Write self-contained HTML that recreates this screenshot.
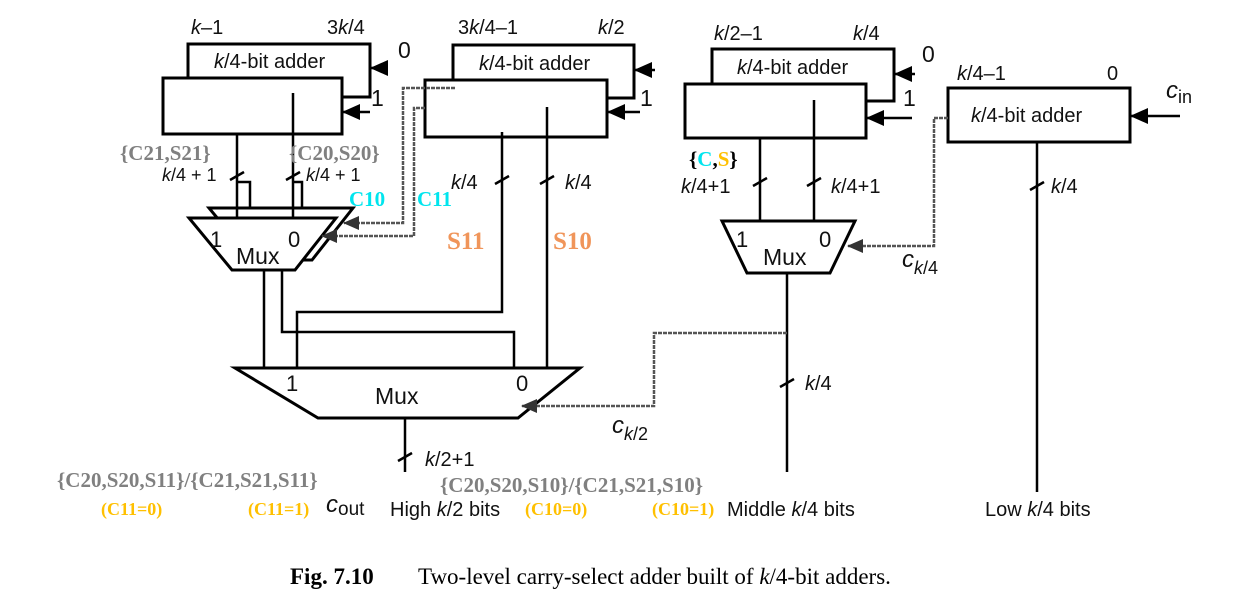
<!DOCTYPE html>
<html><head><meta charset="utf-8"><style>
html,body{margin:0;padding:0;background:#fff;}
svg{display:block;}
.s{font-family:"Liberation Sans",sans-serif;font-size:20px;fill:#111;}
.i{font-style:italic;}
.g{font-family:"Liberation Serif",serif;font-weight:bold;font-size:21px;fill:#808080;}
.y{font-family:"Liberation Serif",serif;font-weight:bold;font-size:18px;fill:#FFC000;}
.c{font-family:"Liberation Serif",serif;font-weight:bold;font-size:21px;fill:#00E5EE;}
.o{font-family:"Liberation Serif",serif;font-weight:bold;font-size:25px;fill:#F0955A;}
</style></head><body>
<svg width="1257" height="608" viewBox="0 0 1257 608" xmlns="http://www.w3.org/2000/svg">
<defs>
<marker id="a" markerWidth="18" markerHeight="16" refX="17" refY="8" orient="auto" markerUnits="userSpaceOnUse"><path d="M0,0 L18,8 L0,16 z" fill="#000"/></marker>
<marker id="b" markerWidth="16" markerHeight="14" refX="15" refY="7" orient="auto" markerUnits="userSpaceOnUse"><path d="M0,0 L16,7 L0,14 z" fill="#333"/></marker>
</defs>
<g fill="#fff" stroke="#000" stroke-width="3">
<rect x="188" y="44" width="182" height="53"/>
<rect x="163" y="78" width="179" height="56"/>
<rect x="453" y="45" width="181" height="53"/>
<rect x="425" y="80" width="182" height="57"/>
<rect x="712" y="49" width="182" height="52"/>
<rect x="685" y="84" width="181" height="54"/>
<rect x="948" y="88" width="182" height="54"/>
<path d="M209,208 L353,208 L312,260 L252,260 Z"/>
<path d="M189,218 L336,218 L295,270 L232,270 Z"/>
<path d="M722,221 L855,221 L830,273 L747,273 Z"/>
<path d="M235,368 L580,368 L518,418 L318,418 Z"/>
</g>
<g stroke="#000" stroke-width="2.5" fill="none">
<line x1="237" y1="134" x2="237" y2="218"/>
<line x1="293" y1="93" x2="293" y2="218"/>
<path d="M237,182 H250 V208"/>
<path d="M293,182 H302 V208"/>
<line x1="264" y1="270" x2="264" y2="368"/>
<path d="M282,270 V332 H514 V368"/>
<path d="M502,132 V312 H297 V368"/>
<line x1="547" y1="107" x2="547" y2="368"/>
<line x1="760" y1="138" x2="760" y2="221"/>
<line x1="814" y1="100" x2="814" y2="221"/>
<line x1="787" y1="273" x2="787" y2="472"/>
<line x1="1037" y1="142" x2="1037" y2="492"/>
<line x1="405" y1="418" x2="405" y2="472"/>
<line x1="230" y1="180" x2="244" y2="172"/>
<line x1="286" y1="180" x2="300" y2="172"/>
<line x1="495" y1="184" x2="509" y2="176"/>
<line x1="540" y1="184" x2="554" y2="176"/>
<line x1="753" y1="186" x2="767" y2="178"/>
<line x1="807" y1="186" x2="821" y2="178"/>
<line x1="1030" y1="190" x2="1044" y2="182"/>
<line x1="780" y1="387" x2="794" y2="379"/>
<line x1="398" y1="461" x2="412" y2="453"/>
<line x1="387" y1="68" x2="371" y2="68" marker-end="url(#a)"/>
<line x1="370" y1="112" x2="343" y2="112" marker-end="url(#a)"/>
<line x1="655" y1="70" x2="635" y2="70" marker-end="url(#a)"/>
<line x1="640" y1="112" x2="608" y2="112" marker-end="url(#a)"/>
<line x1="915" y1="74" x2="895" y2="74" marker-end="url(#a)"/>
<line x1="912" y1="118" x2="867" y2="118" marker-end="url(#a)"/>
<line x1="1180" y1="116" x2="1131" y2="116" marker-end="url(#a)"/>
</g>
<g stroke="#555" stroke-width="2.5" fill="none" stroke-dasharray="4,1">
<path d="M455,88 H403 V223 H344" marker-end="url(#b)"/>
<path d="M425,108 H414 V236 H322" marker-end="url(#b)"/>
<path d="M948,118 H934 V246 H848" marker-end="url(#b)"/>
<path d="M787,333 H654 V406 H522" marker-end="url(#b)"/>
</g>
<text class="s" x="191" y="34"><tspan class="i">k</tspan>–1</text>
<text class="s" x="327" y="34">3<tspan class="i">k</tspan>/4</text>
<text class="s" x="214" y="68"><tspan class="i">k</tspan>/4-bit adder</text>
<text class="s" x="398" y="58" style="font-size:23px">0</text>
<text class="s" x="371" y="106" style="font-size:23px">1</text>
<text class="s" x="458" y="34">3<tspan class="i">k</tspan>/4–1</text>
<text class="s" x="598" y="34"><tspan class="i">k</tspan>/2</text>
<text class="s" x="479" y="70"><tspan class="i">k</tspan>/4-bit adder</text>
<text class="s" x="640" y="106" style="font-size:23px">1</text>
<text class="s" x="714" y="40"><tspan class="i">k</tspan>/2–1</text>
<text class="s" x="853" y="40"><tspan class="i">k</tspan>/4</text>
<text class="s" x="737" y="74"><tspan class="i">k</tspan>/4-bit adder</text>
<text class="s" x="922" y="62" style="font-size:23px">0</text>
<text class="s" x="903" y="106" style="font-size:23px">1</text>
<text class="s" x="957" y="80"><tspan class="i">k</tspan>/4–1</text>
<text class="s" x="1107" y="80">0</text>
<text class="s" x="971" y="122"><tspan class="i">k</tspan>/4-bit adder</text>
<text class="s" x="1166" y="98" style="font-size:24px"><tspan class="i">c</tspan><tspan font-size="18" dy="5">in</tspan></text>
<text class="s" x="162" y="181" style="font-size:18px"><tspan class="i">k</tspan>/4 + 1</text>
<text class="s" x="306" y="181" style="font-size:18px"><tspan class="i">k</tspan>/4 + 1</text>
<text class="s" x="451" y="189"><tspan class="i">k</tspan>/4</text>
<text class="s" x="565" y="189"><tspan class="i">k</tspan>/4</text>
<text class="s" x="681" y="193"><tspan class="i">k</tspan>/4+1</text>
<text class="s" x="831" y="193"><tspan class="i">k</tspan>/4+1</text>
<text class="s" x="1051" y="193"><tspan class="i">k</tspan>/4</text>
<text class="s" x="210" y="247" style="font-size:22px">1</text>
<text class="s" x="288" y="247" style="font-size:22px">0</text>
<text class="s" x="236" y="264" style="font-size:23px">Mux</text>
<text class="s" x="736" y="247" style="font-size:22px">1</text>
<text class="s" x="819" y="247" style="font-size:22px">0</text>
<text class="s" x="763" y="265" style="font-size:23px">Mux</text>
<text class="s" x="902" y="267" style="font-size:24px"><tspan class="i">c</tspan><tspan class="i" font-size="18" dy="7">k</tspan><tspan font-size="18">/4</tspan></text>
<text class="s" x="286" y="391" style="font-size:22px">1</text>
<text class="s" x="516" y="391" style="font-size:22px">0</text>
<text class="s" x="375" y="404" style="font-size:23px">Mux</text>
<text class="s" x="805" y="390"><tspan class="i">k</tspan>/4</text>
<text class="s" x="612" y="433" style="font-size:24px"><tspan class="i">c</tspan><tspan class="i" font-size="18" dy="7">k</tspan><tspan font-size="18">/2</tspan></text>
<text class="s" x="425" y="466"><tspan class="i">k</tspan>/2+1</text>
<text class="s" x="326" y="512" style="font-size:24px"><tspan class="i">c</tspan><tspan font-size="19" dy="3">out</tspan></text>
<text class="s" x="390" y="516">High <tspan class="i">k</tspan>/2 bits</text>
<text class="s" x="727" y="516">Middle <tspan class="i">k</tspan>/4 bits</text>
<text class="s" x="985" y="516">Low <tspan class="i">k</tspan>/4 bits</text>
<text class="g" x="120" y="160">{C21,S21}</text>
<text class="g" x="289" y="160">{C20,S20}</text>
<text class="c" x="349" y="206">C10</text>
<text class="c" x="417" y="206">C11</text>
<text class="o" x="447" y="249">S11</text>
<text class="o" x="553" y="249">S10</text>
<text class="g" x="689" y="166"><tspan fill="#000">{</tspan><tspan fill="#00E5EE">C</tspan><tspan fill="#000">,</tspan><tspan fill="#FFC000">S</tspan><tspan fill="#000">}</tspan></text>
<text class="g" x="57" y="487">{C20,S20,S11}/{C21,S21,S11}</text>
<text class="g" x="440" y="492">{C20,S20,S10}/{C21,S21,S10}</text>
<text class="y" x="101" y="515">(C11=0)</text>
<text class="y" x="248" y="515">(C11=1)</text>
<text class="y" x="525" y="515">(C10=0)</text>
<text class="y" x="652" y="515">(C10=1)</text>
<text x="290" y="584" style="font-family:'Liberation Serif',serif;font-size:23px;font-weight:bold">Fig. 7.10</text>
<text x="418" y="584" style="font-family:'Liberation Serif',serif;font-size:23px">Two-level carry-select adder built of <tspan font-style="italic">k</tspan>/4-bit adders.</text>
</svg>
</body></html>
